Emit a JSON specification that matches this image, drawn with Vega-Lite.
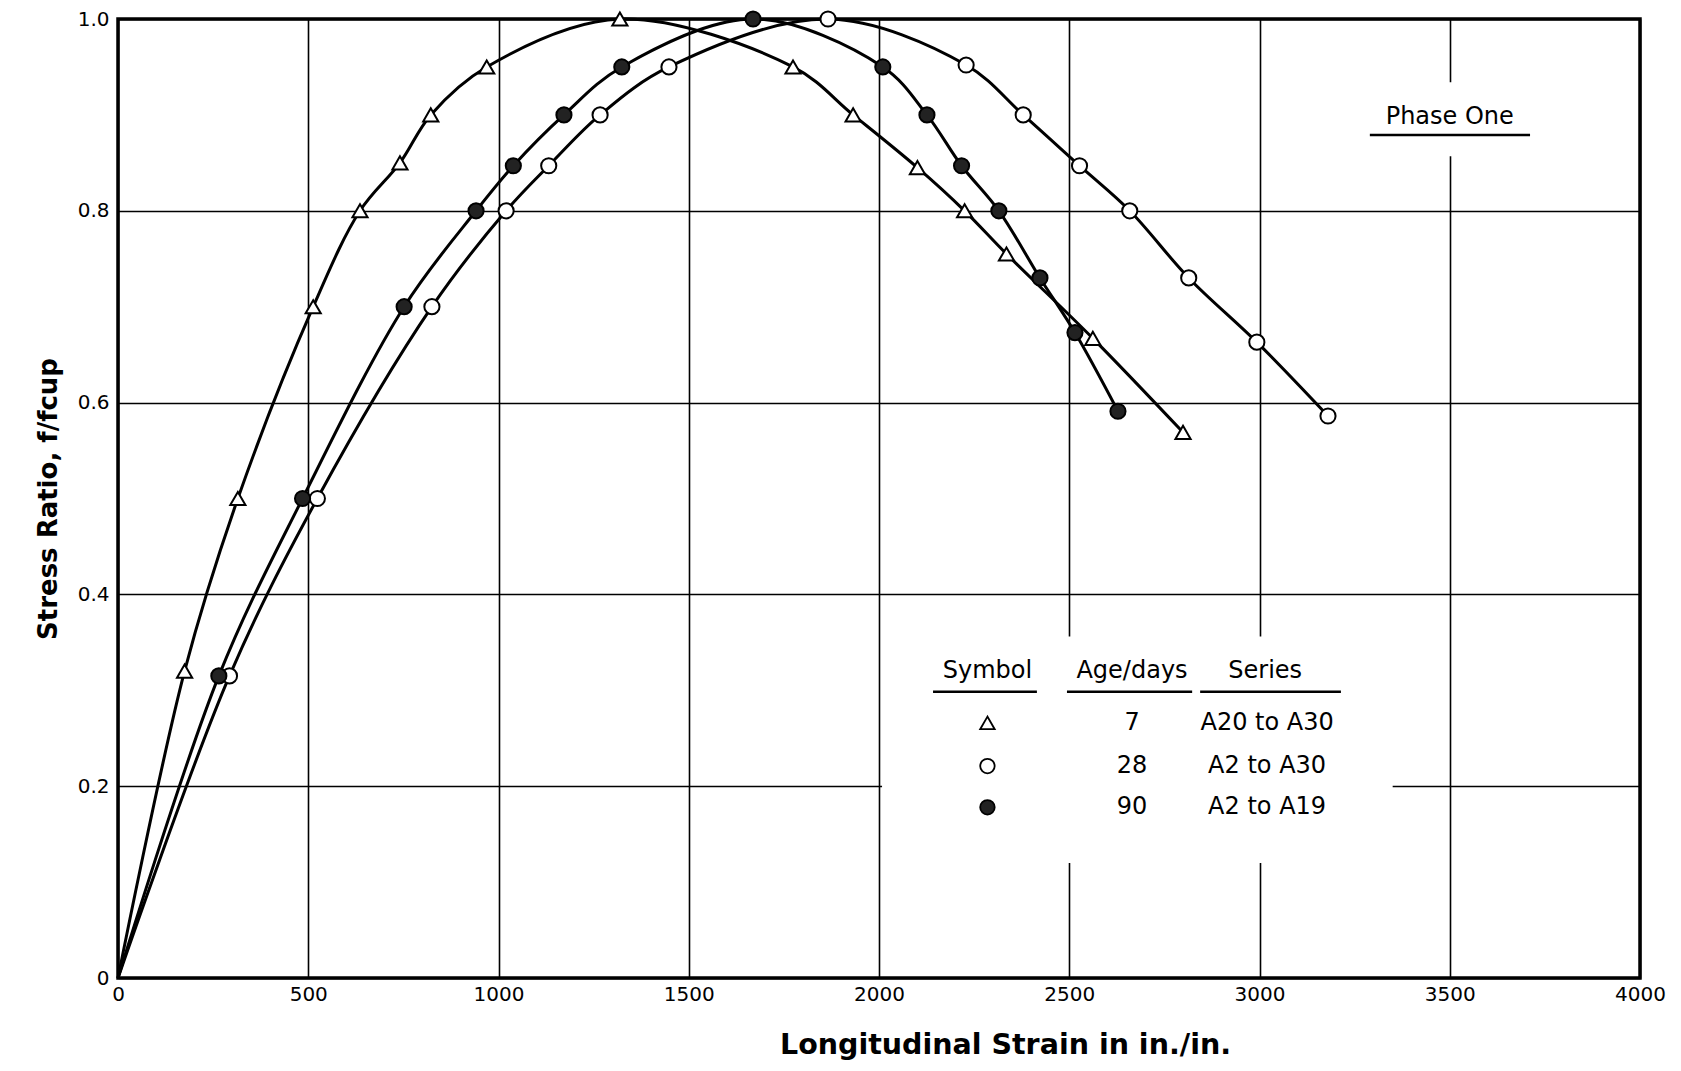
{
  "$schema": "https://vega.github.io/schema/vega-lite/v6.json",
  "width": 1522,
  "height": 959,
  "autosize": "none",
  "padding": {"left": 118, "top": 19, "right": 41, "bottom": 93},
  "background": "white",
  "config": {
    "view": {"stroke": "black", "strokeWidth": 3.5},
    "font": "DejaVu Sans",
    "axis": {
      "domain": false,
      "ticks": false,
      "grid": true,
      "gridColor": "black",
      "gridWidth": 1.6,
      "gridOpacity": 1,
      "labelFlush": false,
      "labelFont": "DejaVu Sans",
      "labelFontSize": 20,
      "labelColor": "black",
      "titleFont": "DejaVu Sans",
      "titleColor": "black"
    }
  },
  "datasets": {
    "curves": [
      {"age": "7", "strain": 0, "ratio": 0},
      {"age": "7", "strain": 175, "ratio": 0.32},
      {"age": "7", "strain": 315, "ratio": 0.5},
      {"age": "7", "strain": 513, "ratio": 0.7},
      {"age": "7", "strain": 636, "ratio": 0.8},
      {"age": "7", "strain": 741, "ratio": 0.85},
      {"age": "7", "strain": 822, "ratio": 0.9},
      {"age": "7", "strain": 969, "ratio": 0.95},
      {"age": "7", "strain": 1319, "ratio": 1.0},
      {"age": "7", "strain": 1774, "ratio": 0.95},
      {"age": "7", "strain": 1932, "ratio": 0.9},
      {"age": "7", "strain": 2101, "ratio": 0.845},
      {"age": "7", "strain": 2225, "ratio": 0.8},
      {"age": "7", "strain": 2335, "ratio": 0.755},
      {"age": "7", "strain": 2562, "ratio": 0.667},
      {"age": "7", "strain": 2799, "ratio": 0.569},
      {"age": "28", "strain": 0, "ratio": 0},
      {"age": "28", "strain": 293, "ratio": 0.315},
      {"age": "28", "strain": 524, "ratio": 0.5},
      {"age": "28", "strain": 825, "ratio": 0.7},
      {"age": "28", "strain": 1020, "ratio": 0.8},
      {"age": "28", "strain": 1132, "ratio": 0.847},
      {"age": "28", "strain": 1267, "ratio": 0.9},
      {"age": "28", "strain": 1448, "ratio": 0.95},
      {"age": "28", "strain": 1866, "ratio": 1.0},
      {"age": "28", "strain": 2229, "ratio": 0.952},
      {"age": "28", "strain": 2379, "ratio": 0.9},
      {"age": "28", "strain": 2527, "ratio": 0.847},
      {"age": "28", "strain": 2659, "ratio": 0.8},
      {"age": "28", "strain": 2814, "ratio": 0.73},
      {"age": "28", "strain": 2993, "ratio": 0.663},
      {"age": "28", "strain": 3180, "ratio": 0.586},
      {"age": "90", "strain": 0, "ratio": 0},
      {"age": "90", "strain": 265, "ratio": 0.315},
      {"age": "90", "strain": 485, "ratio": 0.5},
      {"age": "90", "strain": 752, "ratio": 0.7},
      {"age": "90", "strain": 941, "ratio": 0.8},
      {"age": "90", "strain": 1039, "ratio": 0.847},
      {"age": "90", "strain": 1172, "ratio": 0.9},
      {"age": "90", "strain": 1324, "ratio": 0.95},
      {"age": "90", "strain": 1669, "ratio": 1.0},
      {"age": "90", "strain": 2010, "ratio": 0.95},
      {"age": "90", "strain": 2126, "ratio": 0.9},
      {"age": "90", "strain": 2217, "ratio": 0.847},
      {"age": "90", "strain": 2315, "ratio": 0.8},
      {"age": "90", "strain": 2423, "ratio": 0.73},
      {"age": "90", "strain": 2515, "ratio": 0.673},
      {"age": "90", "strain": 2628, "ratio": 0.591}
    ],
    "boxes": [
      {"strain": 2008, "strain2": 3350, "ratio": 0.12, "ratio2": 0.356},
      {"strain": 3300, "strain2": 3700, "ratio": 0.857, "ratio2": 0.934}
    ],
    "notes": [
      {"label": "Symbol", "strain": 2285, "ratio": 0.32},
      {"label": "Age/days", "strain": 2665, "ratio": 0.32},
      {"label": "Series", "strain": 3015, "ratio": 0.32},
      {"label": "7", "strain": 2665, "ratio": 0.266},
      {"label": "28", "strain": 2665, "ratio": 0.221},
      {"label": "90", "strain": 2665, "ratio": 0.178},
      {"label": "A20 to A30", "strain": 3020, "ratio": 0.266},
      {"label": "A2 to A30", "strain": 3020, "ratio": 0.221},
      {"label": "A2 to A19", "strain": 3020, "ratio": 0.178},
      {"label": "Phase One", "strain": 3500, "ratio": 0.898}
    ],
    "underlines": [
      {"strain": 2142, "strain2": 2415, "ratio": 0.2985},
      {"strain": 2494, "strain2": 2823, "ratio": 0.2985},
      {"strain": 2844, "strain2": 3214, "ratio": 0.2985},
      {"strain": 3290, "strain2": 3711, "ratio": 0.879}
    ],
    "keys": [
      {"age": "7", "strain": 2285, "ratio": 0.266},
      {"age": "28", "strain": 2285, "ratio": 0.221},
      {"age": "90", "strain": 2285, "ratio": 0.178}
    ]
  },
  "encoding": {
    "x": {
      "field": "strain",
      "type": "quantitative",
      "scale": {"domain": [0, 4000], "nice": false, "zero": false},
      "axis": {
        "values": [0, 500, 1000, 1500, 2000, 2500, 3000, 3500, 4000],
        "format": "d",
        "labelPadding": 6,
        "title": "Longitudinal Strain in in./in.",
        "titleFontSize": 28.5,
        "titleFontWeight": 600,
        "titlePadding": 26,
        "titleX": 887
      }
    },
    "y": {
      "field": "ratio",
      "type": "quantitative",
      "scale": {"domain": [0, 1], "nice": false, "zero": false},
      "axis": {
        "values": [0, 0.2, 0.4, 0.6, 0.8, 1.0],
        "labelExpr": "datum.value == 0 ? '0' : format(datum.value, '.1f')",
        "labelPadding": 9,
        "title": "Stress Ratio, f/fcup",
        "titleFontSize": 26,
        "titleFontWeight": "bold",
        "titlePadding": 16
      }
    }
  },
  "layer": [
    {
      "data": {"name": "boxes"},
      "mark": {"type": "rect", "fill": "white", "stroke": null},
      "encoding": {
        "x2": {"field": "strain2"},
        "y2": {"field": "ratio2"}
      }
    },
    {
      "data": {"name": "curves"},
      "mark": {"type": "line", "interpolate": "catmull-rom", "color": "black", "strokeWidth": 3},
      "encoding": {
        "detail": {"field": "age"},
        "order": {"field": "strain", "type": "quantitative"}
      }
    },
    {
      "data": {"name": "curves"},
      "transform": [{"filter": "datum.strain > 0"}],
      "mark": {"type": "point", "filled": true, "stroke": "black", "strokeWidth": 2, "opacity": 1, "size": 230},
      "encoding": {
        "shape": {"field": "age", "type": "nominal", "scale": {"domain": ["7", "28", "90"], "range": ["triangle-up", "circle", "circle"]}, "legend": null},
        "fill": {"field": "age", "type": "nominal", "scale": {"domain": ["7", "28", "90"], "range": ["white", "white", "#222222"]}, "legend": null}
      }
    },
    {
      "data": {"name": "notes"},
      "mark": {"type": "text", "fontSize": 24, "color": "black", "align": "center", "baseline": "middle"},
      "encoding": {"text": {"field": "label"}}
    },
    {
      "data": {"name": "underlines"},
      "mark": {"type": "rule", "color": "black", "strokeWidth": 2.5},
      "encoding": {"x2": {"field": "strain2"}}
    },
    {
      "data": {"name": "keys"},
      "mark": {"type": "point", "filled": true, "stroke": "black", "strokeWidth": 1.8, "opacity": 1, "size": 210},
      "encoding": {
        "shape": {"field": "age", "type": "nominal", "legend": null},
        "fill": {"field": "age", "type": "nominal", "legend": null}
      }
    }
  ]
}
